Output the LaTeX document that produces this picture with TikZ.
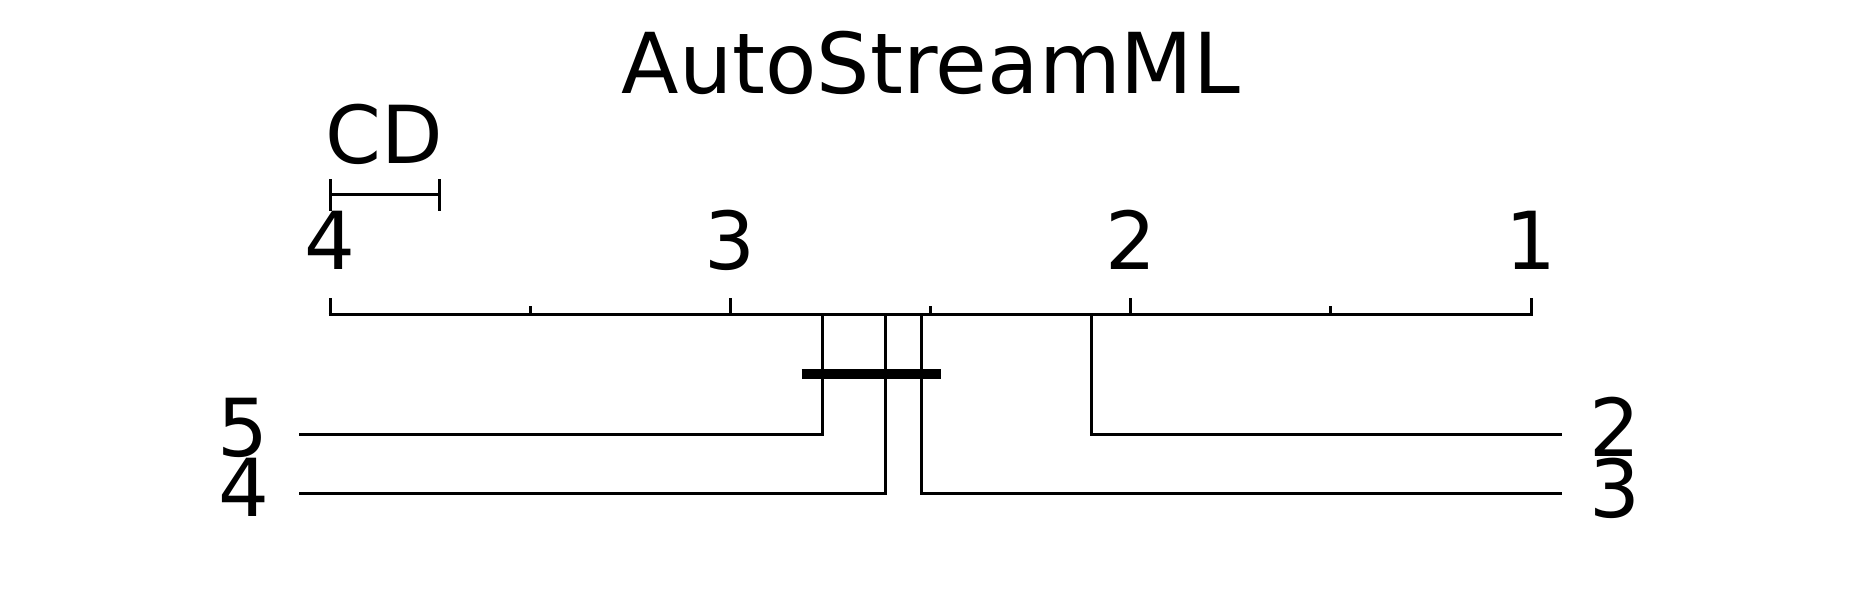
\documentclass[tikz,border=0pt]{standalone}
\usepackage{fontspec}
\setmainfont{DejaVu Sans}
\begin{document}
\begin{tikzpicture}[x=1pt,y=-1pt,
  lbl/.style={inner sep=0pt, font=\fontsize{80}{96}\selectfont},
  ttl/.style={inner sep=0pt, font=\fontsize{84}{100}\selectfont},
  ln/.style={line width=3pt, line cap=butt, line join=miter},
  clique/.style={line width=10.7pt, line cap=butt}]
\useasboundingbox (0,0) rectangle (1859,614);
% title
\node[ttl, anchor=base] (title) at (931,93.3) {AutoStreamML};
% CD bar
\coordinate (cdl) at (330,194.3);
\coordinate (cdr) at (439,194.3);
\node[lbl, anchor=base] (cd) at (384.5,163.3) {CD};
\draw[ln] (cdl) -- (cdr);
\draw[ln] ([yshift=-16.3pt]cdl) -- ([yshift=15.7pt]cdl);
\draw[ln] ([yshift=-16.3pt]cdr) -- ([yshift=15.7pt]cdr);
% axis
\coordinate (a4) at (330,314);
\coordinate (a1) at (1531,314);
\draw[ln] ([xshift=-1.5pt]a4) -- ([xshift=1.5pt]a1);
\foreach \r/\x in {4/330,3/730.3,2/1130.7,1/1531}{
  \coordinate (t\r) at (\x,314);
  \draw[ln] (\x,298.3) -- ([yshift=1.5pt]t\r);
  \node[lbl, anchor=base] (tl\r) at (\x,269) {\r};
}
\foreach \i/\x in {a/530.2,b/930.5,c/1330.8}{
  \coordinate (h\i) at (\x,314);
  \draw[ln] (\x,306) -- ([yshift=1.5pt]h\i);
}
% methods
\coordinate (m5t) at (822.3,314);  \coordinate (m5c) at (822.3,434.3);  \coordinate (m5e) at (299.3,434.3);
\coordinate (m4t) at (885.7,314);  \coordinate (m4c) at (885.7,493.3);  \coordinate (m4e) at (299.3,493.3);
\coordinate (m3t) at (921.7,314);  \coordinate (m3c) at (921.7,493.3);  \coordinate (m3e) at (1561.7,493.3);
\coordinate (m2t) at (1091.7,314); \coordinate (m2c) at (1091.7,434.3); \coordinate (m2e) at (1561.7,434.3);
\draw[ln] (m5t) -- (m5c) -- (m5e);
\draw[ln] (m4t) -- (m4c) -- (m4e);
\draw[ln] (m3t) -- (m3c) -- (m3e);
\draw[ln] (m2t) -- (m2c) -- (m2e);
\node[lbl, anchor=base east] (l5) at (269,456.3) {5};
\node[lbl, anchor=base east] (l4) at (269.5,516.7) {4};
\node[lbl, anchor=base west] (l2) at (1589,456.7) {2};
\node[lbl, anchor=base west] (l3) at (1589,517.3) {3};
% clique
\coordinate (ql) at (801.7,374);
\coordinate (qr) at (941,374);
\draw[clique] (ql) -- (qr);
\end{tikzpicture}
\end{document}
